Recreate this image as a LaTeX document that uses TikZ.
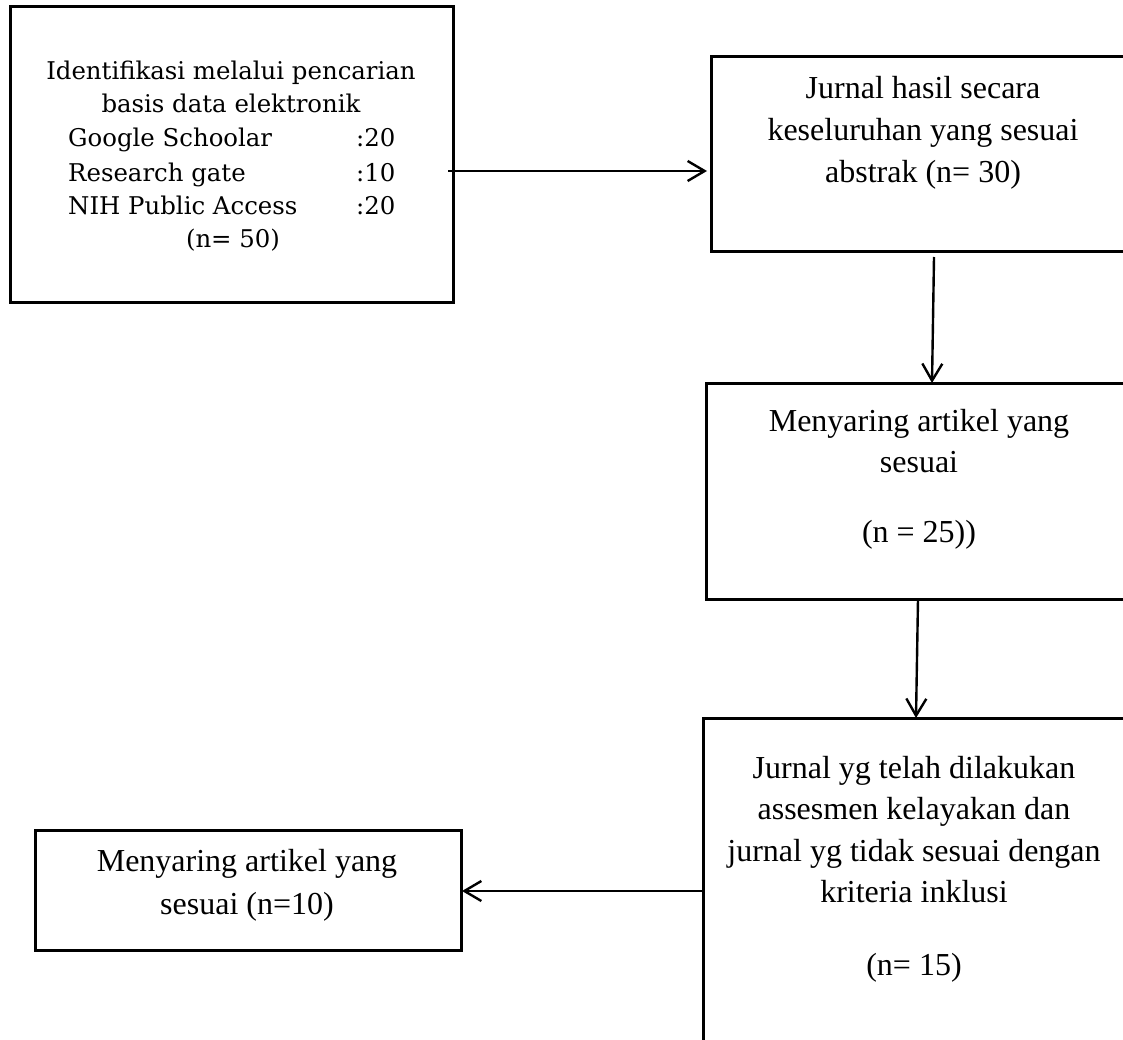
\documentclass[tikz,border=0pt]{standalone}
\usepackage{fontspec}
\setmainfont{Liberation Serif}
\newfontfamily\boxonefont{DejaVu Serif}
\usetikzlibrary{arrows.meta,calc}
\begin{document}
\begin{tikzpicture}[x=1pt,y=-1pt,
  boxshape/.style={draw, line width=3pt, inner sep=0pt, outer sep=0pt, anchor=north west},
  tnr/.style={font=\fontsize{32}{42}\selectfont, inner sep=0pt, anchor=base},
  cmb/.style={font=\boxonefont\fontsize{24.4}{34}\selectfont, inner sep=0pt, anchor=base},
  cmbl/.style={cmb, anchor=base west},
  flow/.style={line width=2.4pt, -{Straight Barb[length=17pt,width=20pt,line width=2.4pt]}}]
\clip (0,0) rectangle (1123,1040);
\fill[white] (0,0) rectangle (1123,1040);

% boxes
\node[boxshape, minimum width=443pt, minimum height=295pt] (b1) at (10,7) {};
\node[boxshape, minimum width=429pt, minimum height=195pt] (b2) at (711,57) {};
\node[boxshape, minimum width=434pt, minimum height=216pt] (b3) at (706,383) {};
\node[boxshape, minimum width=437pt, minimum height=340pt] (b4) at (703,718) {};
\node[boxshape, minimum width=426pt, minimum height=120pt] (b5) at (35,830) {};

% box 1 text
\node[cmb] (t1a) at (231,80) {Identifikasi melalui pencarian};
\node[cmb] (t1b) at (231,113) {basis data elektronik};
\node[cmbl] (t1c) at (68,147) {Google Schoolar};
\node[cmbl] (t1cn) at (356,147) {:20};
\node[cmbl] (t1d) at (68,182) {Research gate};
\node[cmbl] (t1dn) at (356,182) {:10};
\node[cmbl] (t1e) at (68,215) {NIH Public Access};
\node[cmbl] (t1en) at (356,215) {:20};
\node[cmb] (t1f) at (233,248) {(n= 50)};

% box 2 text
\node[tnr] (t2a) at (923,99) {Jurnal hasil secara};
\node[tnr] (t2b) at (923,141) {keseluruhan yang sesuai};
\node[tnr] (t2c) at (923,183) {abstrak (n= 30)};

% box 3 text
\node[tnr] (t3a) at (919,431) {Menyaring artikel yang};
\node[tnr] (t3b) at (919,472) {sesuai};
\node[tnr] (t3c) at (919,542) {(n = 25))};

% box 4 text
\node[tnr] (t4a) at (914,778) {Jurnal yg telah dilakukan};
\node[tnr] (t4b) at (914,819) {assesmen kelayakan dan};
\node[tnr] (t4c) at (914,861) {jurnal yg tidak sesuai dengan};
\node[tnr] (t4d) at (914,902) {kriteria inklusi};
\node[tnr] (t4e) at (914,975) {(n= 15)};

% box 5 text
\node[tnr] (t5a) at (247,871) {Menyaring artikel yang};
\node[tnr] (t5b) at (247,914) {sesuai (n=10)};

% connectors
\draw[flow] ($(b1.north east)+(-5,164)$) -- ($(b2.north west)+(-4,114)$);
\draw[flow] ($(b2.south west)+(223,5)$) -- ($(b3.north west)+(226,0)$);
\draw[flow] ($(b3.south west)+(212,0)$) -- ($(b4.north west)+(213,0)$);
\draw[flow] ($(b4.north west)+(0,173)$) -- ($(b5.north east)+(1,61)$);
\end{tikzpicture}
\end{document}
